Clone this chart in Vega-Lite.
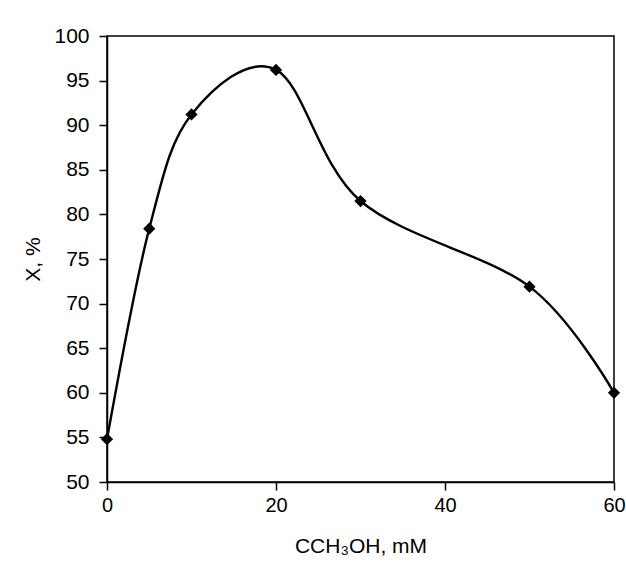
{
  "$schema": "https://vega.github.io/schema/vega-lite/v6.json",
  "width": 507,
  "height": 446,
  "autosize": {"type": "none"},
  "padding": {"left": 107, "top": 36, "right": 12, "bottom": 91},
  "background": "white",
  "config": {
    "font": "Liberation Sans",
    "view": {"stroke": "#000000", "strokeWidth": 1.5},
    "axis": {
      "grid": false,
      "domainColor": "#000000",
      "domainWidth": 1.5,
      "tickColor": "#000000",
      "tickWidth": 1.5,
      "tickSize": 8,
      "labelFont": "Liberation Sans",
      "labelFontSize": 21,
      "labelColor": "#000000",
      "titleFont": "Liberation Sans",
      "titleFontSize": 21,
      "titleFontWeight": "normal",
      "titleColor": "#000000"
    }
  },
  "data": {
    "values": [
      {"c": 0, "x": 54.8},
      {"c": 5, "x": 78.4},
      {"c": 10, "x": 91.2},
      {"c": 20, "x": 96.2},
      {"c": 30, "x": 81.5},
      {"c": 50, "x": 71.9},
      {"c": 60, "x": 60.0}
    ]
  },
  "encoding": {
    "x": {
      "field": "c",
      "type": "quantitative",
      "scale": {"domain": [0, 60], "nice": false, "zero": false},
      "axis": {"values": [0, 20, 40, 60], "title": "CCH₃OH, mM", "labelFontSize": 20, "titleFontSize": 21, "labelPadding": 5, "titlePadding": 20, "labelFlush": false}
    },
    "y": {
      "field": "x",
      "type": "quantitative",
      "scale": {"domain": [50, 100], "nice": false, "zero": false},
      "axis": {"values": [50, 55, 60, 65, 70, 75, 80, 85, 90, 95, 100], "title": "X, %", "labelFontSize": 21, "titleFontSize": 21, "labelPadding": 10, "titlePadding": 10, "labelFlush": false}
    }
  },
  "layer": [
    {"mark": {"type": "line", "interpolate": "cardinal", "color": "#000000", "strokeWidth": 2.4, "clip": false}},
    {"mark": {"type": "point", "shape": "diamond", "filled": true, "color": "#000000", "opacity": 1, "size": 150, "clip": false}}
  ]
}
